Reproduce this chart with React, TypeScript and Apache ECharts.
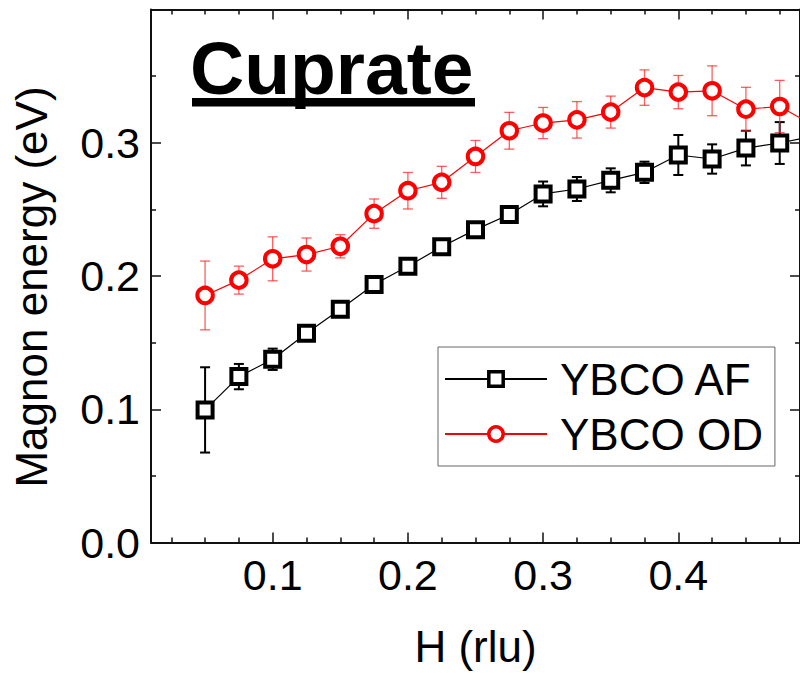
import React, { useEffect, useRef } from "react";
import * as echarts from "echarts";

const FONT = "'Liberation Sans', Arial, sans-serif";

const hValues = [0.05, 0.075, 0.1, 0.125, 0.15, 0.175, 0.2, 0.225, 0.25, 0.275, 0.3, 0.325, 0.35, 0.375, 0.4, 0.425, 0.45, 0.475, 0.5];
const afEnergy = [0.0995, 0.1245, 0.1375, 0.157, 0.175, 0.1936, 0.2073, 0.2219, 0.2348, 0.2461, 0.2616, 0.2653, 0.2718, 0.2778, 0.2908, 0.2878, 0.296, 0.2998, 0.305];
const afError = [0.032, 0.0095, 0.008, 0.004, 0.004, 0.004, 0.004, 0.004, 0.005, 0.005, 0.0093, 0.009, 0.009, 0.008, 0.015, 0.011, 0.013, 0.0157, 0];
const odEnergy = [0.1854, 0.1969, 0.2129, 0.2161, 0.2223, 0.2468, 0.264, 0.2703, 0.2897, 0.309, 0.3148, 0.3172, 0.323, 0.3414, 0.338, 0.339, 0.3252, 0.3272, 0.313];
const odError = [0.0258, 0.0105, 0.0165, 0.0124, 0.0087, 0.011, 0.0137, 0.012, 0.012, 0.0138, 0.0117, 0.0137, 0.012, 0.0133, 0.0125, 0.0187, 0.0164, 0.0196, 0];

const xMajorTicks = [0.1, 0.2, 0.3, 0.4];
const xMinorTicks = [0.025, 0.05, 0.075, 0.125, 0.15, 0.175, 0.225, 0.25, 0.275, 0.325, 0.35, 0.375, 0.425, 0.45, 0.475];

const seriesNames = ["YBCO AF", "YBCO OD"];
const titleText = "Cuprate";
const xName = "H (rlu)";
const yName = "Magnon energy (eV)";

function errorRenderer(color: string, width: number, capHalf: number) {
  return (params: any, api: any) => {
    const x = api.value(0);
    const y = api.value(1);
    const e = api.value(2);
    if (!e) return null;
    const top = api.coord([x, y + e]);
    const bot = api.coord([x, y - e]);
    const style = { stroke: color, lineWidth: width };
    return {
      type: "group",
      children: [
        { type: "line", shape: { x1: top[0], y1: top[1], x2: bot[0], y2: bot[1] }, style },
        { type: "line", shape: { x1: top[0] - capHalf, y1: top[1], x2: top[0] + capHalf, y2: top[1] }, style },
        { type: "line", shape: { x1: bot[0] - capHalf, y1: bot[1], x2: bot[0] + capHalf, y2: bot[1] }, style },
      ],
    };
  };
}

export default function App() {
  const ref = useRef<HTMLDivElement>(null);
  useEffect(() => {
    if (!ref.current) return;
    const chart = echarts.init(ref.current, null, { renderer: "svg" });
    const axisLineStyle = { color: "#111", width: 2 };
    const baseX = {
      type: "value",
      min: 0.01,
      max: 0.49,
      splitLine: { show: false },
      axisLine: { show: true, onZero: false, lineStyle: axisLineStyle },
    };
    const afData = hValues.map((h, i) => [h, afEnergy[i]]);
    const odData = hValues.map((h, i) => [h, odEnergy[i]]);
    const afErr = hValues.map((h, i) => [h, afEnergy[i], afError[i]]);
    const odErr = hValues.map((h, i) => [h, odEnergy[i], odError[i]]);

    chart.setOption({
      animation: false,
      backgroundColor: "#fff",
      grid: { left: 151, top: 9.5, width: 653.5, height: 534, containLabel: false },
      xAxis: [
        {
          ...baseX,
          position: "bottom",
          axisTick: { show: true, inside: true, length: 10, customValues: xMajorTicks, lineStyle: { color: "#111", width: 1.5 } },
          axisLabel: {
            show: true,
            customValues: xMajorTicks,
            formatter: (v: number) => v.toFixed(1),
            fontSize: 43,
            color: "#000",
            fontFamily: FONT,
            margin: 11,
          },
          name: xName,
          nameLocation: "middle",
          nameGap: 81.5,
          nameTextStyle: { fontSize: 44, color: "#000", fontFamily: FONT },
        },
        {
          ...baseX,
          position: "bottom",
          axisLine: { show: false, onZero: false },
          axisTick: { show: true, inside: true, length: 5, customValues: xMinorTicks, lineStyle: { color: "#111", width: 1.5 } },
          axisLabel: { show: false },
        },
        {
          ...baseX,
          position: "top",
          axisTick: { show: true, inside: true, length: 10, customValues: xMajorTicks, lineStyle: { color: "#111", width: 1.5 } },
          axisLabel: { show: false },
        },
        {
          ...baseX,
          position: "top",
          axisLine: { show: false, onZero: false },
          axisTick: { show: true, inside: true, length: 5, customValues: xMinorTicks, lineStyle: { color: "#111", width: 1.5 } },
          axisLabel: { show: false },
        },
      ],
      yAxis: [
        {
          type: "value",
          position: "left",
          min: 0,
          max: 0.4,
          interval: 0.1,
          splitLine: { show: false },
          axisLine: { show: true, onZero: false, lineStyle: axisLineStyle },
          axisTick: { show: true, inside: true, length: 10, lineStyle: { color: "#111", width: 1.5 } },
          minorTick: { show: true, splitNumber: 2, length: 5, lineStyle: { color: "#111", width: 1.5 } },
          axisLabel: {
            formatter: (v: number) => v.toFixed(1),
            fontSize: 43,
            color: "#000",
            fontFamily: FONT,
            margin: 11,
            showMaxLabel: false,
          },
        },
        {
          type: "value",
          position: "right",
          min: 0,
          max: 0.4,
          interval: 0.1,
          splitLine: { show: false },
          axisLine: { show: true, onZero: false, lineStyle: axisLineStyle },
          axisTick: { show: true, inside: true, length: 10, lineStyle: { color: "#111", width: 1.5 } },
          minorTick: { show: true, splitNumber: 2, length: 5, lineStyle: { color: "#111", width: 1.5 } },
          axisLabel: { show: false },
        },
      ],
      legend: {
        orient: "vertical",
        left: 438,
        top: 347,
        itemWidth: 102,
        itemHeight: 18,
        itemGap: 11,
        padding: [10, 12, 10, 6],
        borderColor: "#666",
        borderWidth: 1,
        backgroundColor: "#fff",
        selectedMode: false,
        itemStyle: { borderWidth: 3.5 },
        textStyle: { fontSize: 44, color: "#000", fontFamily: FONT, padding: [0, 0, 0, 8] },
        data: seriesNames,
      },
      series: [
        {
          name: "AF error",
          type: "custom",
          xAxisIndex: 0,
          yAxisIndex: 0,
          z: 1,
          renderItem: errorRenderer("#000", 2, 5),
          data: afErr,
        },
        {
          name: "OD error",
          type: "custom",
          xAxisIndex: 0,
          yAxisIndex: 0,
          z: 1,
          renderItem: errorRenderer("rgba(255,40,40,0.75)", 1.3, 5),
          data: odErr,
        },
        {
          name: seriesNames[0],
          type: "line",
          xAxisIndex: 0,
          yAxisIndex: 0,
          z: 3,
          data: afData,
          symbol: "rect",
          symbolSize: 15,
          lineStyle: { color: "#000", width: 1.2 },
          itemStyle: { color: "#fff", borderColor: "#000", borderWidth: 4 },
        },
        {
          name: seriesNames[1],
          type: "line",
          xAxisIndex: 0,
          yAxisIndex: 0,
          z: 3,
          data: odData,
          symbol: "circle",
          symbolSize: 15.5,
          lineStyle: { color: "#ff0000", width: 1.2 },
          itemStyle: { color: "#fff", borderColor: "#ff0000", borderWidth: 4 },
        },
      ],
      graphic: [
        {
          type: "text",
          x: 190,
          y: 67.5,
          style: {
            text: titleText,
            fontSize: 75,
            fontWeight: "bold",
            fontFamily: FONT,
            fill: "#000",
            textAlign: "left",
            textVerticalAlign: "middle",
          },
        },
        {
          type: "rect",
          shape: { x: 192, y: 98, width: 283, height: 8.5 },
          style: { fill: "#000" },
        },
        {
          type: "text",
          x: 31,
          y: 287,
          rotation: Math.PI / 2,
          style: {
            text: yName,
            fontSize: 44,
            fontFamily: FONT,
            fill: "#000",
            textAlign: "center",
            textVerticalAlign: "middle",
          },
        },
      ],
    });
    return () => chart.dispose();
  }, []);
  return <div ref={ref} style={{ position: "fixed", left: 0, top: 0, width: 800, height: 673 }} />;
}
